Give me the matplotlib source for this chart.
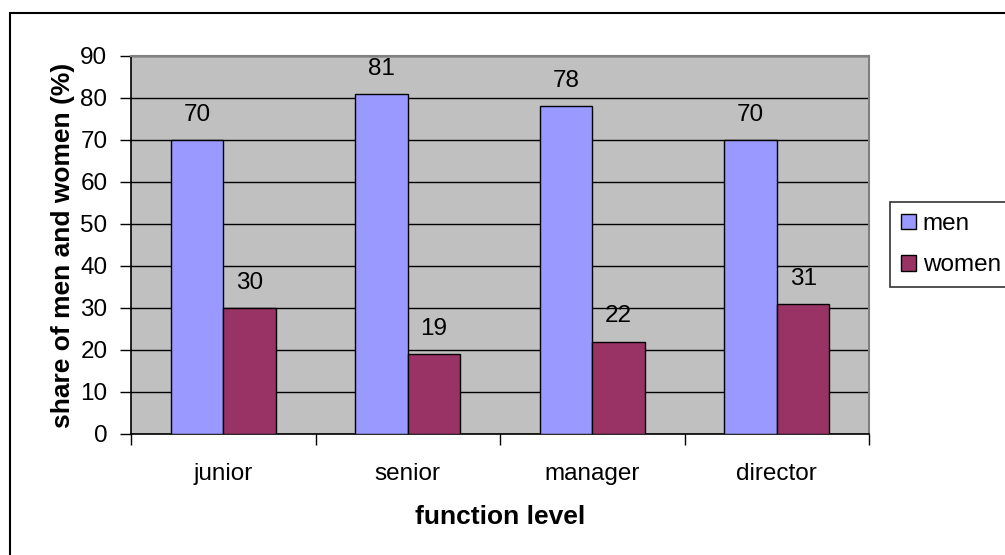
import matplotlib
matplotlib.use("Agg")
import matplotlib.pyplot as plt
import numpy as np
from matplotlib.patches import Rectangle

categories = ["junior", "senior", "manager", "director"]
men = [70, 81, 78, 70]
women = [30, 19, 22, 31]

plt.rcParams['font.family'] = ['Liberation Sans', 'DejaVu Sans']
fs = 17.5
fs_lab = 19

fig = plt.figure(figsize=(10.05, 5.55), dpi=100)
W, H = 1005, 555

# outer chart frame (runs past the right and bottom edge)
fig.patches.append(Rectangle((10 / W, -0.05), 1.05, 1 - 13 / H + 0.05,
                             transform=fig.transFigure, fill=False,
                             edgecolor="black", linewidth=1.5))

ax = fig.add_axes([131 / W, 1 - 434 / H, (869 - 131) / W, (434 - 56) / H])
ax.set_facecolor("#C0C0C0")

x = np.arange(len(categories))
bw = 1 / 3.5
b1 = ax.bar(x - bw / 2, men, bw, color="#9999FF", edgecolor="black", linewidth=1, label="men", zorder=3)
b2 = ax.bar(x + bw / 2, women, bw, color="#993366", edgecolor="black", linewidth=1, label="women", zorder=3)

for bars in (b1, b2):
    for r in bars:
        ax.text(r.get_x() + r.get_width() / 2, r.get_height() + 3.4, f"{int(r.get_height())}",
                ha="center", va="bottom", fontsize=fs)

ax.set_xlim(-0.5, len(categories) - 0.5)
ax.set_ylim(0, 90)
ax.set_yticks(range(0, 91, 10))
ax.yaxis.grid(True, color="black", linewidth=1, zorder=0)
ax.set_axisbelow(True)

ax.set_xticks(np.arange(-0.5, len(categories), 1))
ax.set_xticklabels([])
ax.set_xticks(x, minor=True)
ax.set_xticklabels(categories, minor=True)
ax.tick_params(axis="x", which="major", length=8, width=1, direction="out")
ax.tick_params(axis="x", which="minor", length=0, pad=21, labelsize=fs)
ax.tick_params(axis="y", length=8, width=1, direction="out", labelsize=fs, pad=9)

for s in ["top", "right"]:
    ax.spines[s].set_color("#808080")
    ax.spines[s].set_linewidth(1.5)
for s in ["left", "bottom"]:
    ax.spines[s].set_color("black")
    ax.spines[s].set_linewidth(1.2)

ax.set_xlabel("function level", fontsize=fs_lab, fontweight="bold", labelpad=14)
ax.set_ylabel("share of men and women (%)", fontsize=fs_lab, fontweight="bold", labelpad=4)

leg = fig.legend(loc="upper left", bbox_to_anchor=(890 / W, 1 - 202 / H),
                 fontsize=fs, frameon=True, fancybox=False, edgecolor="black",
                 handlelength=0.6, handleheight=0.6, handletextpad=0.3,
                 labelspacing=0.8, borderpad=0.45, borderaxespad=0)
leg.get_frame().set_linewidth(1.2)

fig.savefig("out.png", dpi=100)
